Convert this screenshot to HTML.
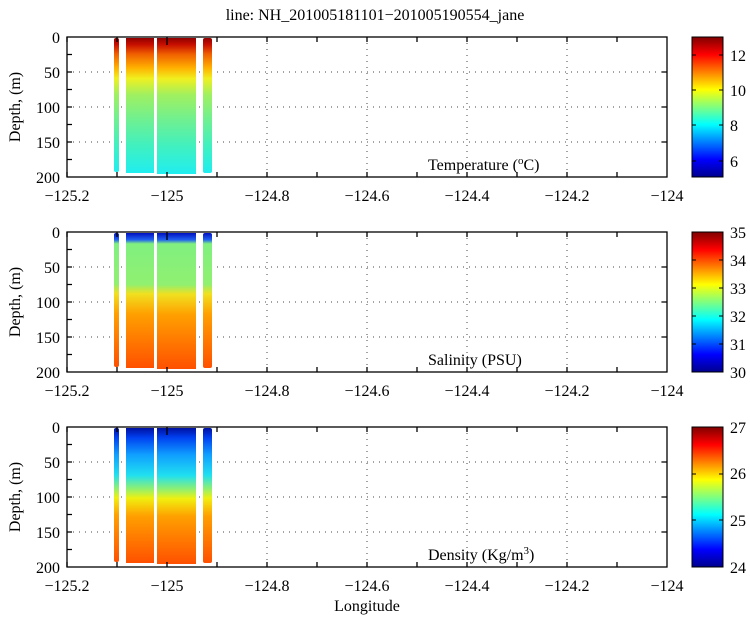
<!DOCTYPE html>
<html><head><style>body{margin:0;background:#fff}svg{display:block}text{font-family:"Liberation Serif",serif;fill:#000}</style></head>
<body>
<svg width="750" height="618" viewBox="0 0 750 618" xmlns="http://www.w3.org/2000/svg">
<defs>
<linearGradient id="jet" x1="0" y1="1" x2="0" y2="0">
<stop offset="0" stop-color="#00008f"/><stop offset="0.125" stop-color="#0000ff"/><stop offset="0.375" stop-color="#00ffff"/><stop offset="0.625" stop-color="#ffff00"/><stop offset="0.875" stop-color="#ff0000"/><stop offset="1" stop-color="#800000"/>
</linearGradient>
<linearGradient id="gT" x1="0" y1="0" x2="0" y2="1">
<stop offset="0" stop-color="#900000"/><stop offset="0.05" stop-color="#c81000"/><stop offset="0.12" stop-color="#f06000"/><stop offset="0.22" stop-color="#ffb000"/><stop offset="0.3" stop-color="#f0f020"/><stop offset="0.42" stop-color="#a0f060"/><stop offset="0.6" stop-color="#70f090"/><stop offset="0.8" stop-color="#40f0c0"/><stop offset="1" stop-color="#20eef0"/>
</linearGradient>
<linearGradient id="gS" x1="0" y1="0" x2="0" y2="1">
<stop offset="0" stop-color="#0010c0"/><stop offset="0.05" stop-color="#2060f0"/><stop offset="0.08" stop-color="#80f080"/><stop offset="0.38" stop-color="#90f070"/><stop offset="0.45" stop-color="#f0e020"/><stop offset="0.6" stop-color="#ffa000"/><stop offset="1" stop-color="#ff5000"/>
</linearGradient>
<linearGradient id="gD" x1="0" y1="0" x2="0" y2="1">
<stop offset="0" stop-color="#0010a0"/><stop offset="0.07" stop-color="#0040f0"/><stop offset="0.2" stop-color="#10a0ff"/><stop offset="0.35" stop-color="#20e0f0"/><stop offset="0.45" stop-color="#90f070"/><stop offset="0.52" stop-color="#f0f010"/><stop offset="0.65" stop-color="#ffa000"/><stop offset="1" stop-color="#ff5000"/>
</linearGradient>
<g id="grid" stroke="#444" stroke-width="1" stroke-dasharray="1,5" fill="none">
<line x1="167" y1="0" x2="167" y2="140"/><line x1="267" y1="0" x2="267" y2="140"/><line x1="367" y1="0" x2="367" y2="140"/><line x1="467" y1="0" x2="467" y2="140"/><line x1="567" y1="0" x2="567" y2="140"/>
<line x1="67" y1="35" x2="667" y2="35"/><line x1="67" y1="70" x2="667" y2="70"/><line x1="67" y1="105" x2="667" y2="105"/>
</g>
<g id="ax" stroke="#000" stroke-width="1.3" fill="none">
<rect x="67" y="0" width="600" height="140"/>
<path d="M67,0v5M117,0v5M167,0v8M217,0v5M267,0v5M317,0v5M367,0v5M417,0v5M467,0v5M517,0v5M567,0v5M617,0v5M67,140v-5M117,140v-5M167,140v-5M217,140v-5M267,140v-5M317,140v-5M367,140v-5M417,140v-5M467,140v-5M517,140v-5M567,140v-5M617,140v-5M67,17.5h5M67,35h5M67,52.5h5M67,70h5M67,87.5h5M67,105h5M67,122.5h5M667,35h-5M667,70h-5M667,105h-5"/>
</g>
<g id="lab" font-size="16">
<text x="67" y="164" text-anchor="middle">−125.2</text><text x="167" y="164" text-anchor="middle">−125</text><text x="267" y="164" text-anchor="middle">−124.8</text><text x="367" y="164" text-anchor="middle">−124.6</text><text x="467" y="164" text-anchor="middle">−124.4</text><text x="567" y="164" text-anchor="middle">−124.2</text><text x="667" y="164" text-anchor="middle">−124</text>
<text x="60" y="6" text-anchor="end">0</text><text x="60" y="41" text-anchor="end">50</text><text x="60" y="76" text-anchor="end">100</text><text x="60" y="111" text-anchor="end">150</text><text x="60" y="146" text-anchor="end">200</text>
<text transform="translate(20,70) rotate(-90)" text-anchor="middle">Depth, (m)</text>
</g>
</defs>
<text x="375" y="20" font-size="16" text-anchor="middle">line: NH_201005181101−201005190554_jane</text>

<g transform="translate(0,37)">
<use href="#grid"/>
<g fill="url(#gT)"><rect x="114" y="1" width="5" height="134" rx="2"/><rect x="126" y="1" width="28" height="135"/><rect x="157" y="1" width="39" height="136"/><rect x="203" y="1" width="9" height="135" rx="2"/></g>
<use href="#ax"/><use href="#lab"/>
<text x="428" y="133" font-size="16">Temperature (<tspan font-size="11" dy="-6">o</tspan><tspan dy="6">C)</tspan></text>
<rect x="692" y="0" width="31" height="140" fill="url(#jet)" stroke="#000"/>
<g font-size="16"><text x="730" y="24">12</text><text x="730" y="59">10</text><text x="730" y="94">8</text><text x="730" y="130">6</text></g>
<path d="M692,18h4M723,18h-4M692,53h4M723,53h-4M692,88h4M723,88h-4M692,124h4M723,124h-4" stroke="#000"/>
</g>

<g transform="translate(0,232)">
<use href="#grid"/>
<g fill="url(#gS)"><rect x="114" y="1" width="5" height="134" rx="2"/><rect x="126" y="1" width="28" height="135"/><rect x="157" y="1" width="39" height="136"/><rect x="203" y="1" width="9" height="135" rx="2"/></g>
<use href="#ax"/><use href="#lab"/>
<text x="428" y="133" font-size="16">Salinity (PSU)</text>
<rect x="692" y="0" width="31" height="140" fill="url(#jet)" stroke="#000"/>
<g font-size="16"><text x="730" y="6">35</text><text x="730" y="34">34</text><text x="730" y="62">33</text><text x="730" y="90">32</text><text x="730" y="118">31</text><text x="730" y="146">30</text></g>
<path d="M692,28h4M723,28h-4M692,56h4M723,56h-4M692,84h4M723,84h-4M692,112h4M723,112h-4" stroke="#000"/>
</g>

<g transform="translate(0,427)">
<use href="#grid"/>
<g fill="url(#gD)"><rect x="114" y="1" width="5" height="134" rx="2"/><rect x="126" y="1" width="28" height="135"/><rect x="157" y="1" width="39" height="136"/><rect x="203" y="1" width="9" height="135" rx="2"/></g>
<use href="#ax"/><use href="#lab"/>
<text x="428" y="133" font-size="16">Density (Kg/m<tspan font-size="11" dy="-6">3</tspan><tspan dy="6">)</tspan></text>
<rect x="692" y="0" width="31" height="140" fill="url(#jet)" stroke="#000"/>
<g font-size="16"><text x="730" y="6">27</text><text x="730" y="52">26</text><text x="730" y="99">25</text><text x="730" y="146">24</text></g>
<path d="M692,47h4M723,47h-4M692,93h4M723,93h-4" stroke="#000"/>
</g>
<text x="367" y="611" font-size="16" text-anchor="middle">Longitude</text>
</svg>
</body></html>
